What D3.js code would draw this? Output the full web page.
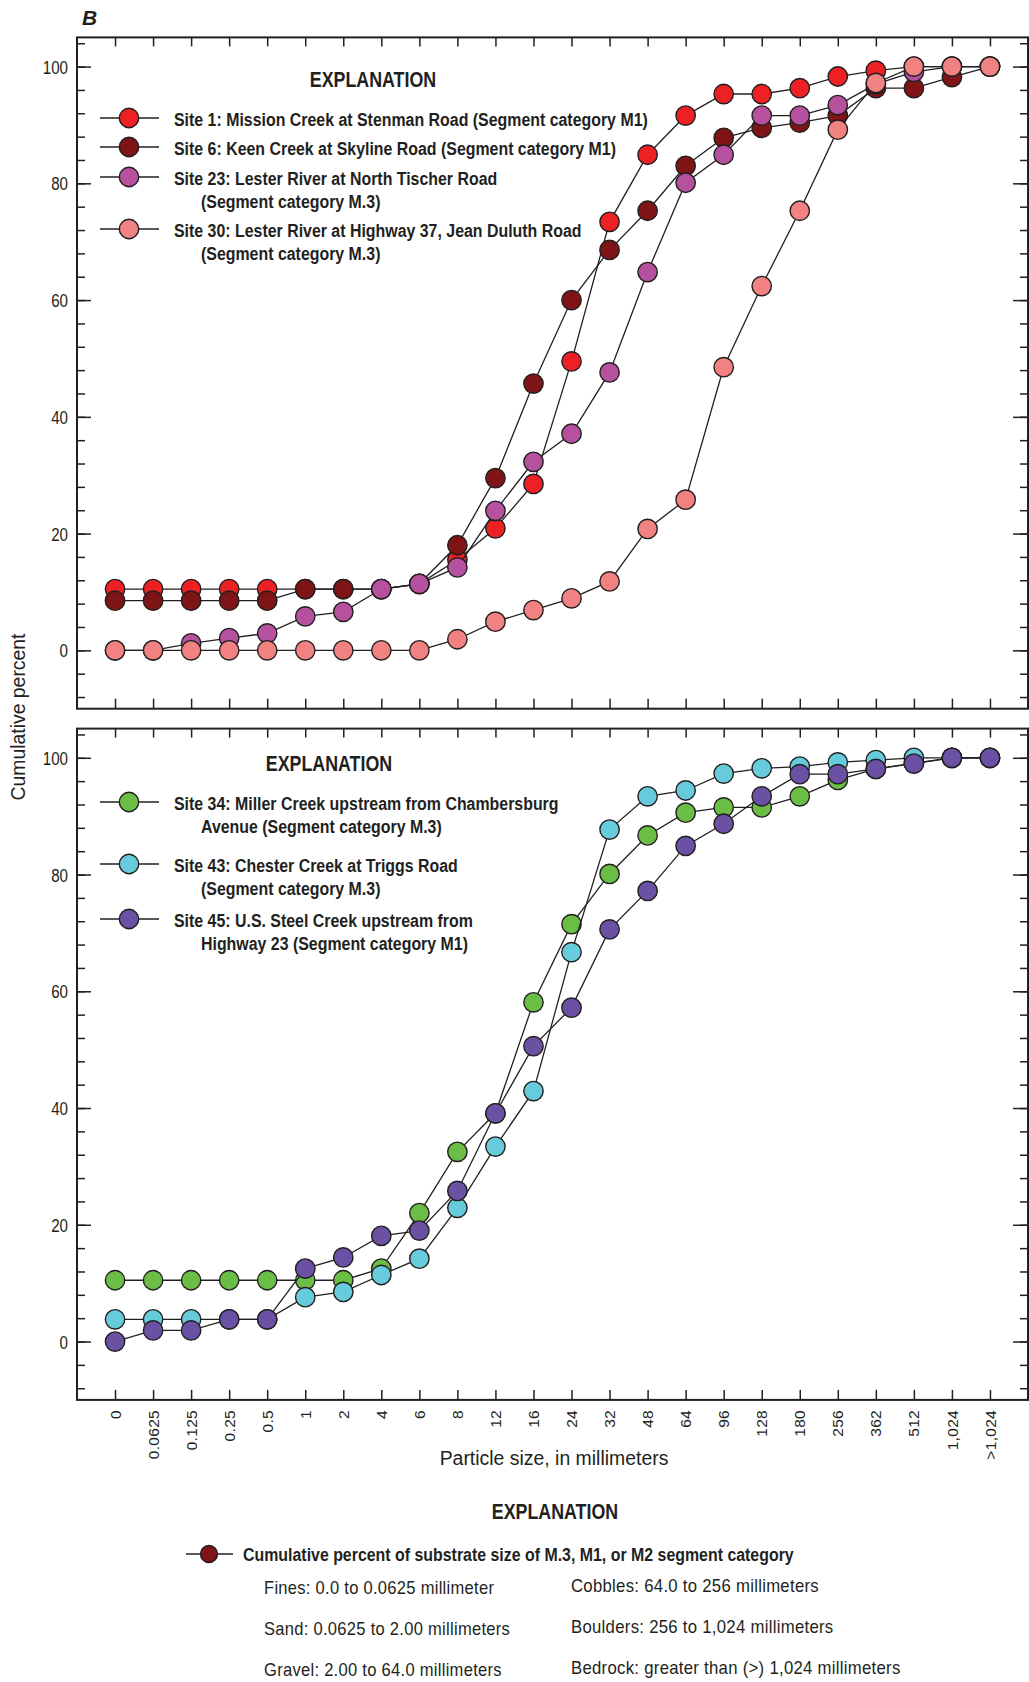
<!DOCTYPE html>
<html lang="en">
<head>
<meta charset="UTF-8">
<title>Cumulative percent of substrate size</title>
<script src="https://d3js.org/d3.v7.min.js"></script>
<style>
  body { margin: 0; background: #fff; }
  svg text { fill: #231f20; font-family: "Liberation Sans", Arial, sans-serif; }
  .tick line { stroke: #231f20; stroke-width: 1.5px; }
  .frame { fill: none; stroke: #231f20; stroke-width: 2px; }
  .series-line { fill: none; stroke: #231f20; stroke-width: 1.3px; }
  .dot { stroke: #231f20; stroke-width: 1.4px; }
</style>
</head>
<body>
<svg width="1029" height="1682"></svg>
<script>
// particle size classes (x categories)
const sizeCats = ["0", "0.0625", "0.125", "0.25", "0.5", "1", "2", "4", "6", "8", "12", "16",
  "24", "32", "48", "64", "96", "128", "180", "256", "362", "512", "1,024", ">1,024"];

// top panel
const site1  = [10.5, 10.5, 10.5, 10.5, 10.5, 10.5, 10.5, 10.5, 11.4, 15.5, 20.9, 28.5,
  49.5, 73.4, 84.9, 91.6, 95.3, 95.3, 96.3, 98.3, 99.3, 100, 100, 100];
const site6  = [8.5, 8.5, 8.5, 8.5, 8.5, 10.5, 10.5, 10.5, 11.4, 18.0, 29.5, 45.7,
  60.0, 68.6, 75.3, 83.0, 87.8, 89.5, 90.4, 91.6, 96.3, 96.3, 98.2, 100];
const site23 = [0, 0, 1.2, 2.1, 2.9, 5.8, 6.6, 10.5, 11.4, 14.2, 23.9, 32.3,
  37.1, 47.6, 64.8, 80.1, 84.9, 91.6, 91.6, 93.4, 97.0, 99.1, 100, 100];
const site30 = [0, 0, 0, 0, 0, 0, 0, 0, 0, 1.9, 4.9, 6.9,
  8.9, 11.8, 20.8, 25.8, 48.5, 62.4, 75.3, 89.2, 97.2, 100, 100, 100];

// bottom panel
const site34 = [10.5, 10.5, 10.5, 10.5, 10.5, 10.5, 10.5, 12.5, 22.0, 32.5, 39.1, 58.1,
  71.5, 80.1, 86.7, 90.6, 91.5, 91.5, 93.4, 96.2, 98.1, 99.1, 100, 100];
const site43 = [3.8, 3.8, 3.8, 3.8, 3.8, 7.6, 8.5, 11.4, 14.2, 22.9, 33.4, 42.9,
  66.7, 87.7, 93.4, 94.4, 97.3, 98.2, 98.5, 99.2, 99.6, 100, 100, 100];
const site45 = [0, 1.9, 1.9, 3.8, 3.8, 12.5, 14.4, 18.1, 19.0, 25.8, 39.1, 50.6,
  57.2, 70.6, 77.2, 84.9, 88.7, 93.4, 97.2, 97.2, 98.1, 99.0, 100, 100];

const topLabels = [
  ["Site 1: Mission Creek at Stenman Road (Segment category M1)"],
  ["Site 6: Keen Creek at Skyline Road (Segment category M1)"],
  ["Site 23: Lester River at North Tischer Road", "(Segment category M.3)"],
  ["Site 30: Lester River at Highway 37, Jean Duluth Road", "(Segment category M.3)"]
];
const bottomLabels = [
  ["Site 34: Miller Creek upstream from Chambersburg", "Avenue (Segment category M.3)"],
  ["Site 43: Chester Creek at Triggs Road", "(Segment category M.3)"],
  ["Site 45: U.S. Steel Creek upstream from", "Highway 23 (Segment category M1)"]
];
const sizeClassesLeft = ["Fines: 0.0 to 0.0625 millimeter", "Sand: 0.0625 to 2.00 millimeters",
  "Gravel: 2.00 to 64.0 millimeters"];
const sizeClassesRight = ["Cobbles: 64.0 to 256 millimeters", "Boulders: 256 to 1,024 millimeters",
  "Bedrock: greater than (>) 1,024 millimeters"];

const majorTicks = [0, 20, 40, 60, 80, 100];
const minorTicks = d3.range(-8, 105, 4);

const svg = d3.select("svg");
const left = 77, right = 1028;

// condensed look: the source font is a narrow face, so squeeze Liberation Sans horizontally
const SQ_BOLD = 0.86, SQ_REG = 0.92;

function addText(parent, x, y, str, size, opts = {}) {
  const sq = opts.sq || (opts.bold ? SQ_BOLD : SQ_REG);
  const rot = opts.rotate ? ` rotate(${opts.rotate})` : "";
  return parent.append("text")
    .attr("transform", `translate(${x},${y})${rot} scale(${sq},1)`)
    .attr("text-anchor", opts.anchor || "start")
    .style("font-size", size + "px")
    .style("font-weight", opts.bold ? "bold" : "normal")
    .style("letter-spacing", opts.ls ? opts.ls + "px" : null)
    .text(str);
}

const x = d3.scalePoint().domain(sizeCats).range([left, right]).padding(1);

const panels = [
  { top: 37.4, series: [site1, site6, site23, site30],
    colors: ["#ed2124", "#7f1416", "#b5519e", "#f28181"],
    labels: topLabels, legendTitle: [373, 86.7], legendY: [118, 147, 177, 229] },
  { top: 728.6, series: [site34, site43, site45],
    colors: ["#6abd45", "#66cbdb", "#6a51a3"],
    labels: bottomLabels, legendTitle: [329, 770.7], legendY: [802, 864, 919] }
];
const panelH = 671.3;

panels.forEach(p => {
  const y = d3.scaleLinear().domain([-10, 105]).range([p.top + panelH, p.top]);
  const g = svg.append("g");

  // inward ticks on all four sides
  g.append("g").attr("transform", `translate(${left},0)`)
    .call(d3.axisLeft(y).tickValues(minorTicks).tickSize(-8).tickFormat(""))
    .call(a => a.select(".domain").remove());
  g.append("g").attr("transform", `translate(${left},0)`)
    .call(d3.axisLeft(y).tickValues(majorTicks).tickSize(-14).tickPadding(9))
    .call(a => a.select(".domain").remove())
    .call(a => a.selectAll("text")
      .attr("x", null).attr("dy", "0.36em")
      .attr("transform", "translate(-9,0) scale(0.82,1)")
      .style("font-size", "18.5px"));
  g.append("g").attr("transform", `translate(${right},0)`)
    .call(d3.axisRight(y).tickValues(minorTicks).tickSize(-8).tickFormat(""))
    .call(a => a.select(".domain").remove());
  g.append("g").attr("transform", `translate(${right},0)`)
    .call(d3.axisRight(y).tickValues(majorTicks).tickSize(-15).tickFormat(""))
    .call(a => a.select(".domain").remove());
  g.append("g").attr("transform", `translate(0,${p.top})`)
    .call(d3.axisTop(x).tickSize(-9).tickFormat(""))
    .call(a => a.select(".domain").remove());
  g.append("g").attr("transform", `translate(0,${p.top + panelH})`)
    .call(d3.axisBottom(x).tickSize(-10).tickFormat(""))
    .call(a => a.select(".domain").remove());

  g.append("rect").attr("class", "frame")
    .attr("x", left).attr("y", p.top).attr("width", right - left).attr("height", panelH);

  const line = d3.line().x((d, i) => x(sizeCats[i])).y(d => y(d));
  p.series.forEach((s, k) => {
    g.append("path").datum(s).attr("class", "series-line").attr("d", line);
    g.selectAll(null).data(s).enter().append("circle")
      .attr("class", "dot")
      .attr("cx", (d, i) => x(sizeCats[i])).attr("cy", d => y(d))
      .attr("r", 9.7).attr("fill", p.colors[k]);
  });

  // legend
  const lg = g.append("g");
  addText(lg, p.legendTitle[0], p.legendTitle[1], "EXPLANATION", 22, { bold: true, anchor: "middle", sq: 0.81 });
  p.labels.forEach((lab, k) => {
    const cy = p.legendY[k];
    lg.append("line").attr("x1", 100).attr("x2", 159).attr("y1", cy).attr("y2", cy)
      .attr("stroke", "#231f20").attr("stroke-width", 1.3);
    lg.append("circle").attr("class", "dot").attr("cx", 129).attr("cy", cy).attr("r", 9.7)
      .attr("fill", p.colors[k]);
    lab.forEach((t, j) => addText(lg, j ? 201 : 174, cy + 8 + j * 23, t, 18.5, { bold: true }));
  });
});

// panel letter
svg.append("text").attr("x", 82).attr("y", 25)
  .style("font-size", "21px").style("font-weight", "bold").style("font-style", "italic").text("B");

// x tick labels
svg.append("g").selectAll("text").data(sizeCats).enter().append("text")
  .attr("transform", d => `translate(${x(d)},1410) rotate(-90)`)
  .attr("text-anchor", "end").attr("dy", "0.36em")
  .style("font-size", "15.5px").style("letter-spacing", "0.3px")
  .text(d => d);

addText(svg, 554, 1465, "Particle size, in millimeters", 21, { anchor: "middle", sq: 0.925 });
addText(svg, 25, 717, "Cumulative percent", 20, { anchor: "middle", sq: 0.97, rotate: -90 });

// bottom explanation
const ex = svg.append("g");
addText(ex, 555, 1519, "EXPLANATION", 22, { bold: true, anchor: "middle", sq: 0.81 });
ex.append("line").attr("x1", 186).attr("x2", 233).attr("y1", 1554).attr("y2", 1554)
  .attr("stroke", "#231f20").attr("stroke-width", 1.3);
ex.append("circle").attr("class", "dot").attr("cx", 209).attr("cy", 1554).attr("r", 8.5)
  .attr("fill", "#7f1416");
addText(ex, 243, 1561, "Cumulative percent of substrate size of M.3, M1, or M2 segment category", 18.5, { bold: true });
sizeClassesLeft.forEach((d, i) => addText(ex, 264, 1594 + i * 41, d, 18, { ls: 0.3, sq: 0.92 }));
sizeClassesRight.forEach((d, i) => addText(ex, 571, 1592 + i * 41, d, 18, { ls: 0.3, sq: 0.93 }));
</script>
</body>
</html>
